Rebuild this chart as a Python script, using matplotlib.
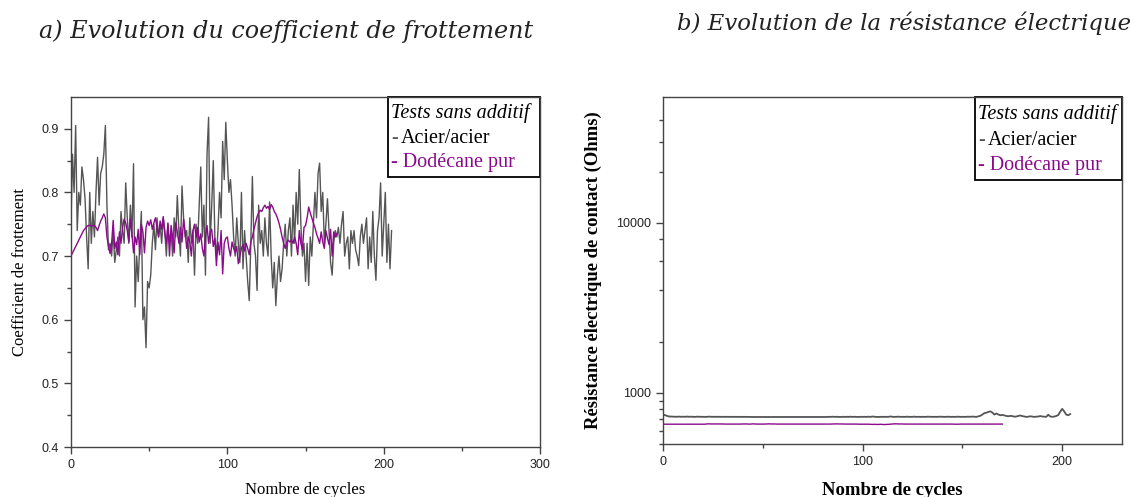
import numpy as np
import matplotlib.pyplot as plt
from matplotlib.patches import Rectangle
from matplotlib.ticker import FixedLocator, NullFormatter

# friction coefficient, steel/steel, one value per cycle (0..205)
mu_acier = [0.75, 0.86, 0.80, 0.905, 0.74, 0.80, 0.78, 0.84, 0.82, 0.79,
            0.73, 0.68, 0.80, 0.72, 0.77, 0.73, 0.80, 0.855, 0.78, 0.83,
            0.84, 0.86, 0.905, 0.78, 0.71, 0.72, 0.70, 0.74, 0.69, 0.71,
            0.73, 0.70, 0.77, 0.74, 0.72, 0.815, 0.76, 0.72, 0.78, 0.73,
            0.845, 0.62, 0.70, 0.66, 0.72, 0.77, 0.60, 0.62, 0.556, 0.66,
            0.65, 0.67, 0.72, 0.75, 0.71, 0.76, 0.73, 0.75, 0.72, 0.76,
            0.74, 0.70, 0.75, 0.72, 0.74, 0.70, 0.76, 0.73, 0.795, 0.74,
            0.70, 0.81, 0.76, 0.73, 0.74, 0.69, 0.76, 0.72, 0.74, 0.67,
            0.75, 0.72, 0.78, 0.84, 0.73, 0.78, 0.67, 0.86, 0.918, 0.72,
            0.78, 0.85, 0.73, 0.70, 0.74, 0.80, 0.76, 0.88, 0.82, 0.91,
            0.85, 0.80, 0.82, 0.78, 0.73, 0.70, 0.76, 0.72, 0.69, 0.80,
            0.68, 0.74, 0.70, 0.66, 0.63, 0.72, 0.825, 0.72, 0.70, 0.646,
            0.78, 0.72, 0.74, 0.70, 0.76, 0.72, 0.70, 0.785, 0.70, 0.65,
            0.69, 0.622, 0.67, 0.70, 0.66, 0.68, 0.72, 0.75, 0.70, 0.74,
            0.76, 0.70, 0.78, 0.72, 0.80, 0.75, 0.836, 0.75, 0.70, 0.72,
            0.66, 0.72, 0.654, 0.73, 0.70, 0.75, 0.80, 0.76, 0.83, 0.846,
            0.77, 0.80, 0.72, 0.75, 0.79, 0.74, 0.69, 0.67, 0.72, 0.74,
            0.73, 0.745, 0.72, 0.75, 0.77, 0.70, 0.72, 0.73, 0.68, 0.74,
            0.72, 0.74, 0.71, 0.70, 0.685, 0.73, 0.75, 0.72, 0.74, 0.76,
            0.68, 0.73, 0.69, 0.77, 0.70, 0.662, 0.74, 0.76, 0.815, 0.70,
            0.75, 0.80, 0.69, 0.75, 0.68, 0.74]

# friction coefficient, pure dodecane (0..170)
mu_dodec = [0.700, 0.705, 0.710, 0.715, 0.720, 0.725, 0.730, 0.735, 0.740, 0.743,
            0.746, 0.748, 0.748, 0.747, 0.748, 0.748, 0.745, 0.740, 0.748, 0.755,
            0.760, 0.766, 0.760, 0.730, 0.715, 0.704, 0.720, 0.756, 0.712, 0.722,
            0.702, 0.738, 0.720, 0.745, 0.758, 0.752, 0.740, 0.722, 0.758, 0.735,
            0.705, 0.730, 0.718, 0.742, 0.702, 0.750, 0.738, 0.705, 0.745, 0.755,
            0.748, 0.757, 0.742, 0.752, 0.760, 0.745, 0.730, 0.755, 0.742, 0.762,
            0.735, 0.720, 0.752, 0.700, 0.748, 0.730, 0.705, 0.752, 0.738, 0.720,
            0.745, 0.722, 0.758, 0.738, 0.712, 0.730, 0.722, 0.700, 0.740, 0.750,
            0.730, 0.745, 0.722, 0.735, 0.712, 0.700, 0.730, 0.748, 0.720, 0.738,
            0.742, 0.715, 0.728, 0.685, 0.722, 0.702, 0.740, 0.672, 0.720, 0.728,
            0.730, 0.712, 0.700, 0.722, 0.712, 0.705, 0.715, 0.688, 0.700, 0.712,
            0.718, 0.708, 0.720, 0.712, 0.702, 0.722, 0.730, 0.742, 0.752, 0.762,
            0.768, 0.772, 0.770, 0.776, 0.780, 0.775, 0.778, 0.773, 0.781, 0.777,
            0.770, 0.766, 0.760, 0.752, 0.742, 0.730, 0.720, 0.712, 0.722, 0.725,
            0.722, 0.725, 0.720, 0.730, 0.720, 0.702, 0.740, 0.720, 0.710, 0.745,
            0.748, 0.760, 0.777, 0.768, 0.760, 0.752, 0.745, 0.735, 0.728, 0.720,
            0.738, 0.722, 0.712, 0.740, 0.728, 0.718, 0.742, 0.700, 0.738, 0.730,
            0.735]

# contact resistance (Ohms), steel/steel (0..204)
r_acier = [745, 740, 732, 726, 725, 723, 724, 723, 725, 723,
           724, 723, 725, 723, 724, 723, 722, 724, 723, 723,
           723, 724, 722, 725, 723, 723, 722, 723, 723, 722,
           722, 722, 722, 722, 722, 722, 722, 722, 724, 722,
           722, 722, 722, 722, 721, 721, 721, 721, 721, 721,
           721, 721, 721, 721, 721, 721, 721, 721, 721, 721,
           721, 721, 721, 721, 721, 721, 721, 721, 721, 721,
           721, 721, 721, 721, 721, 721, 721, 721, 721, 721,
           721, 722, 721, 723, 722, 724, 722, 723, 722, 721,
           723, 722, 723, 722, 724, 722, 723, 722, 721, 723,
           722, 723, 722, 724, 722, 726, 723, 722, 721, 723,
           722, 723, 722, 723, 726, 723, 722, 723, 724, 722,
           723, 722, 724, 723, 722, 723, 724, 722, 723, 722,
           723, 722, 723, 724, 723, 722, 723, 722, 723, 724,
           723, 722, 723, 724, 722, 723, 722, 723, 724, 722,
           723, 722, 723, 724, 723, 725, 723, 722, 727, 733,
           745, 760, 764, 772, 778, 766, 745, 756, 746, 738,
           742, 736, 731, 728, 732, 730, 724, 726, 731, 736,
           730, 726, 722, 724, 728, 725, 722, 724, 726, 730,
           726, 724, 722, 744, 726, 723, 725, 731, 740, 775,
           805, 778, 745, 738, 750]

# contact resistance (Ohms), pure dodecane (0..170)
r_dodec = [654, 654, 654, 654, 654, 654, 654, 654, 654, 654,
           654, 654, 654, 654, 654, 654, 654, 654, 654, 654,
           654, 654, 656, 657, 656, 656, 656, 656, 656, 656,
           656, 655, 655, 655, 655, 655, 655, 655, 655, 655,
           656, 656, 656, 655, 655, 657, 656, 655, 655, 655,
           655, 655, 656, 657, 656, 656, 656, 655, 655, 655,
           655, 655, 655, 655, 655, 655, 655, 655, 655, 655,
           655, 655, 655, 655, 655, 655, 655, 655, 655, 655,
           655, 655, 655, 655, 655, 656, 656, 657, 656, 656,
           656, 655, 655, 655, 655, 655, 655, 655, 654, 654,
           654, 654, 654, 654, 653, 652, 653, 652, 652, 653,
           652, 651, 652, 653, 654, 656, 657, 657, 656, 656,
           656, 655, 655, 655, 655, 655, 655, 655, 655, 655,
           655, 655, 655, 655, 655, 655, 655, 655, 655, 655,
           655, 655, 655, 655, 655, 655, 654, 654, 654, 655,
           655, 655, 655, 655, 655, 655, 655, 655, 655, 655,
           655, 655, 655, 655, 655, 655, 655, 655, 655, 655,
           655]

GREY = '#555555'
PURPLE = '#8b0a8b'
SERIF = 'Liberation Serif'

fig = plt.figure(figsize=(11.3, 4.97), dpi=100)
ax1 = fig.add_axes([0.0628, 0.1006, 0.4152, 0.7044])
ax2 = fig.add_axes([0.5867, 0.1066, 0.4063, 0.6984])

ax1.plot(np.arange(len(mu_acier)), mu_acier, color=GREY, lw=1.0)
ax1.plot(np.arange(len(mu_dodec)), mu_dodec, color=PURPLE, lw=1.0)
ax1.set_xlim(0, 300)
ax1.set_ylim(0.4, 0.95)
ax1.set_xticks([0, 100, 200, 300])
ax1.set_xticks([50, 150, 250], minor=True)
ax1.set_yticks([0.4, 0.5, 0.6, 0.7, 0.8, 0.9])
ax1.set_yticks([0.45, 0.55, 0.65, 0.75, 0.85], minor=True)
ax1.set_xlabel('Nombre de cycles', family=SERIF, fontsize=12, labelpad=8)
ax1.set_ylabel('Coefficient de frottement', family=SERIF, fontsize=12, labelpad=10)

ax2.semilogy(np.arange(len(r_acier)), r_acier, color=GREY, lw=1.3)
ax2.semilogy(np.arange(len(r_dodec)), r_dodec, color=PURPLE, lw=1.0)
ax2.set_xlim(0, 230)
ax2.set_ylim(500, 55000)
ax2.set_xticks([0, 100, 200])
ax2.set_xticks([50, 150], minor=True)
ax2.yaxis.set_major_locator(FixedLocator([1000, 10000]))
ax2.yaxis.set_minor_locator(FixedLocator([500, 600, 700, 800, 900, 2000, 4000, 6000,
                                          8000, 20000, 30000, 40000]))
ax2.yaxis.set_minor_formatter(NullFormatter())
ax2.set_yticklabels(['1000', '10000'])
ax2.set_xlabel('Nombre de cycles', family=SERIF, fontsize=13.5, fontweight='bold', labelpad=10)
ax2.set_ylabel('Résistance électrique de contact (Ohms)', family=SERIF, fontsize=13.4,
               fontweight='bold', labelpad=10)

for ax in (ax1, ax2):
    for sp in ax.spines.values():
        sp.set_color('#444444')
        sp.set_linewidth(1.0)
    ax.tick_params(which='major', direction='out', length=5, width=1, color='#444444',
                   labelsize=9, labelcolor='#222222')
    ax.tick_params(which='minor', direction='out', length=3, width=1, color='#444444')
    for lab in ax.get_xticklabels() + ax.get_yticklabels():
        lab.set_family('Liberation Sans')

# legend boxes drawn as framed text blocks
for ax, x0, y0 in ((ax1, 0.676, 0.77), (ax2, 0.68, 0.76)):
    ax.add_patch(Rectangle((x0, y0), 1.0 - x0, 1.0 - y0, transform=ax.transAxes,
                           fill=False, edgecolor='black', lw=1.3, clip_on=False))
    tx = x0 + 0.006
    h = 1.0 - y0
    ax.text(tx, 1.0 - h * 0.2, 'Tests sans additif', transform=ax.transAxes,
            family=SERIF, style='italic', fontsize=14.5, va='center')
    ax.text(tx, 1.0 - h * 0.52, '-', transform=ax.transAxes, color=GREY,
            family=SERIF, fontsize=14.5, va='center')
    ax.text(tx + 0.022, 1.0 - h * 0.52, 'Acier/acier', transform=ax.transAxes,
            family=SERIF, fontsize=14.5, va='center')
    ax.text(tx, 1.0 - h * 0.82, '- Dodécane pur', transform=ax.transAxes, color=PURPLE,
            family=SERIF, fontsize=14.5, va='center')

fig.text(0.253, 0.938, 'a) Evolution du coefficient de frottement', ha='center', va='center',
         family='DejaVu Serif', style='italic', fontsize=17.2, color='#222222')
fig.text(0.800, 0.954, 'b) Evolution de la résistance électrique', ha='center', va='center',
         family='DejaVu Serif', style='italic', fontsize=16.4, color='#222222')

fig.savefig('out.png', dpi=100)
